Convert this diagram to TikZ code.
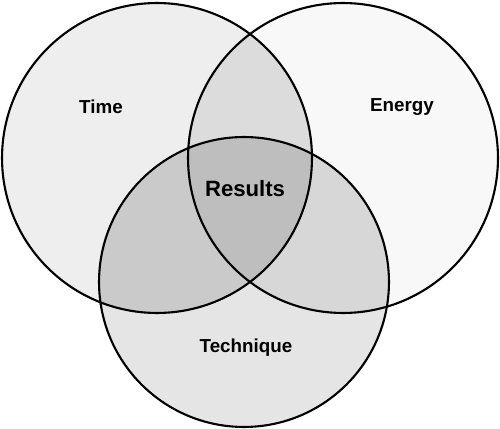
\documentclass[tikz,border=0pt]{standalone}
\usepackage{fontspec}
\setmainfont{Liberation Sans}
\usepackage{tikz}
\usepackage{xcolor}

\definecolor{onlyT}{HTML}{EEEEEE}
\definecolor{onlyE}{HTML}{F8F8F8}
\definecolor{onlyQ}{HTML}{E5E5E5}
\definecolor{TE}{HTML}{DCDCDC}
\definecolor{TQ}{HTML}{CACACA}
\definecolor{EQ}{HTML}{D7D7D7}
\definecolor{TEQ}{HTML}{BEBEBE}

\newcommand{\timecirc}{(157,158) circle[radius=3.1cm]}
\newcommand{\energycirc}{(343,158) circle[radius=3.1cm]}
\newcommand{\techcirc}{(244,282) circle[radius=2.9cm]}

\begin{document}
\begin{tikzpicture}[x=0.02cm, y=-0.02cm,
    outline/.style={draw=black, line width=1.2pt},
    lbl/.style={font=\bfseries\fontsize{10.7}{12}\selectfont, inner sep=0pt}]
    \useasboundingbox (0,0) rectangle (500,429);
    \fill[white] (0,0) rectangle (500,429);

    % single circles
    \fill[onlyT] \timecirc;
    \fill[onlyE] \energycirc;
    \fill[onlyQ] \techcirc;

    % overlaps
    \begin{scope}
      \clip \timecirc;
      \fill[TE] \energycirc;
      \fill[TQ] \techcirc;
    \end{scope}
    \begin{scope}
      \clip \energycirc;
      \fill[EQ] \techcirc;
      \clip \timecirc;
      \fill[TEQ] \techcirc;
    \end{scope}

    \draw[outline] \timecirc;
    \draw[outline] \energycirc;
    \draw[outline] \techcirc;

    \node[lbl] (time) at (101,107) {Time};
    \node[lbl] (energy) at (402,107) {Energy};
    \node[lbl] (technique) at (246,348) {Technique};
    \node[lbl, font=\bfseries\fontsize{12.6}{14}\selectfont] (results) at (245,189) {Results};
  \end{tikzpicture}
\end{document}
